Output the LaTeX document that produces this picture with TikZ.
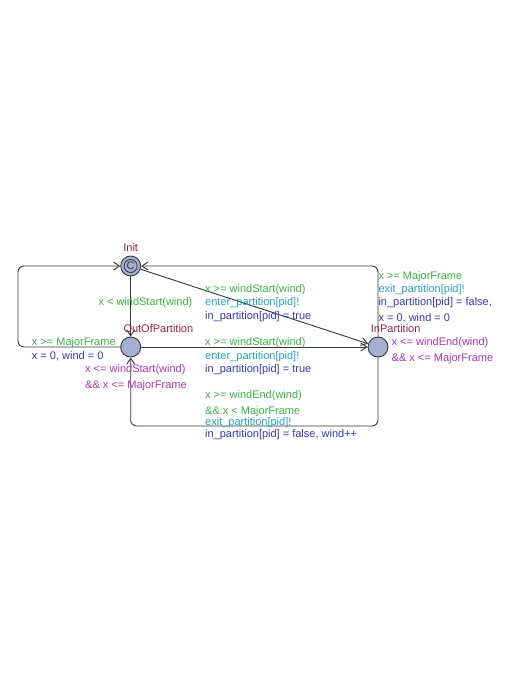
\documentclass[tikz,border=0pt]{standalone}
\usepackage{fontspec}
\setmainfont{Liberation Sans}
\usetikzlibrary{arrows.meta}
\definecolor{cguard}{RGB}{60,175,70}
\definecolor{csync}{RGB}{40,160,180}
\definecolor{cassign}{RGB}{55,55,170}
\definecolor{cinv}{RGB}{170,55,175}
\definecolor{cname}{RGB}{140,40,85}
\definecolor{cloc}{RGB}{165,175,210}
\definecolor{cedge}{RGB}{55,55,55}
\begin{document}
\begin{tikzpicture}[x=1pt,y=-1pt,
  loc/.style={circle,draw=cedge,fill=cloc,minimum size=20pt,inner sep=0pt,line width=0.9pt},
  edge/.style={draw=cedge,line width=0.9pt,-{Straight Barb[length=6pt,width=8pt]},rounded corners=6pt},
  lbl/.style={anchor=base west,inner sep=0pt,font=\fontsize{11}{13}\selectfont},
  guard/.style={lbl,text=cguard},
  sync/.style={lbl,text=csync},
  assign/.style={lbl,text=cassign},
  inv/.style={lbl,text=cinv},
  lname/.style={lbl,text=cname}]
\useasboundingbox (0,0) rectangle (526,681);
% locations
\node[loc] (init) at (130.7,266) {};
\node[circle,draw=cedge,minimum size=13pt,inner sep=0pt,line width=0.8pt,font=\fontsize{11}{11}\selectfont,text=cedge] (initc) at (init) {C};
\node[loc] (oop) at (130.7,347) {};
\node[loc] (inp) at (378,347) {};
% corner coordinates
\coordinate (lb) at (18,347);
\coordinate (lt) at (18,266);
\coordinate (rt) at (378,266);
\coordinate (rb) at (378,426);
\coordinate (bl) at (130.7,426);
% edges
\draw[edge] (init) -- (oop);
\draw[edge] (oop.west) -- (lb) -- (lt) -- (init.west);
\draw[edge] (init) -- (inp);
\draw[edge] (oop) -- (inp);
\draw[edge] (inp.north) -- (rt) -- (init.east);
\draw[edge] (inp.south) -- (rb) -- (bl) -- (oop.south);
% names
\node[lbl,text=cname,anchor=base] (ninit) at (130.7,251.3) {Init};
\node[lname] (noop) at (123.3,332.3) {OutOfPartition};
\node[lname] (ninp) at (370.7,332.3) {InPartition};
% invariants
\node[inv] (ioop1) at (85,372.3) {x <= windStart(wind)};
\node[inv] (ioop2) at (85,388) {\&\& x <= MajorFrame};
\node[inv] (iinp1) at (391.5,345.7) {x <= windEnd(wind)};
\node[inv] (iinp2) at (391.5,361.3) {\&\& x <= MajorFrame};
% init -> oop
\node[guard] (g1) at (98.3,305.7) {x < windStart(wind)};
% oop -> init
\node[guard] (g2) at (31.7,345.7) {x >= MajorFrame};
\node[assign] (a2) at (31.7,359) {x = 0, wind = 0};
% init -> inp
\node[guard] (g3) at (205,292.3) {x >= windStart(wind)};
\node[sync] (s3) at (205,305.7) {enter\_partition[pid]!};
\node[assign] (a3) at (205,319) {in\_partition[pid] = true};
% oop -> inp
\node[guard] (g4) at (205,345) {x >= windStart(wind)};
\node[sync] (s4) at (205,359) {enter\_partition[pid]!};
\node[assign] (a4) at (205,372.3) {in\_partition[pid] = true};
% inp -> oop
\node[guard] (g5) at (205,398.3) {x >= windEnd(wind)};
\node[guard] (g5b) at (205,414) {\&\& x < MajorFrame};
\node[sync] (s5) at (205,425) {exit\_partition[pid]!};
\node[assign] (a5) at (205,437.5) {in\_partition[pid] = false, wind++};
% inp -> init
\node[guard] (g6) at (378.3,279) {x >= MajorFrame};
\node[sync] (s6) at (378.3,292.3) {exit\_partition[pid]!};
\node[assign] (a6) at (378.3,305.7) {in\_partition[pid] = false,};
\node[assign] (a6b) at (378.3,321.3) {x = 0, wind = 0};
\end{tikzpicture}
\end{document}
